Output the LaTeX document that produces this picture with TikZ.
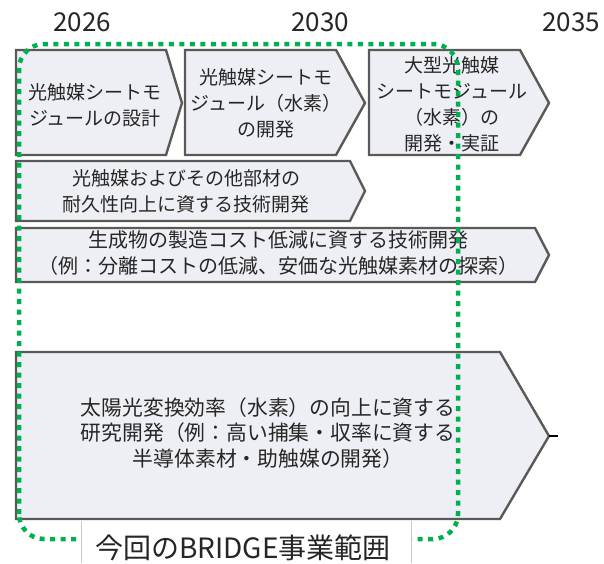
\documentclass[tikz,border=0pt]{standalone}
\usepackage{fontspec}
\setmainfont{Noto Sans CJK JP}
\definecolor{boxfill}{RGB}{238,239,244}
\definecolor{boxline}{RGB}{89,89,89}
\definecolor{txtgray}{RGB}{38,38,38}
\definecolor{scopegreen}{RGB}{0,176,80}
\definecolor{labline}{RGB}{200,200,200}
\tikzset{
  chev/.style={draw=boxline, fill=boxfill, line width=2.4pt, line join=miter},
  txt/.style={text=txtgray, font=\fontsize{19}{26}\selectfont, align=center, inner sep=0pt},
  txtmid/.style={txt, font=\fontsize{20}{25.5}\selectfont},
  txtbig/.style={txt, font=\fontsize{20.8}{25.5}\selectfont},
  yearlab/.style={text=txtgray, font=\fontsize{26}{30}\selectfont, inner sep=0pt},
  rangeline/.style={draw=scopegreen, line width=4.5pt, dash pattern=on 5pt off 5.5pt, rounded corners=25pt},
  labtxt/.style={text=txtgray, font=\fontsize{28}{32}\selectfont, inner sep=0pt}
}
\begin{document}
\begin{tikzpicture}[x=1pt,y=-1pt]
\useasboundingbox (0,0) rectangle (604,563);
\node[yearlab] (y2026) at (82,22) {2026};
\node[yearlab] (y2030) at (320,22) {2030};
\node[yearlab] (y2035) at (571,22) {2035};
% boxes
\draw[chev] (16,50) -- (166,50) -- (182,103) -- (166,155) -- (16,155) -- cycle;
\draw[chev] (185,50) -- (336,50) -- (365,103) -- (336,155) -- (185,155) -- cycle;
\draw[chev] (369,50) -- (520,50) -- (549,103) -- (520,155) -- (369,155) -- cycle;
\draw[chev] (16,161) -- (350,161) -- (365,191) -- (350,221) -- (16,221) -- cycle;
\draw[chev] (16,228) -- (535,228) -- (549,255) -- (535,282) -- (16,282) -- cycle;
\draw[chev] (16,352) -- (500,352) -- (549,436) -- (500,519) -- (16,519) -- cycle;
\draw[line width=2pt, draw=black] (549,436) -- (558,436);
% texts
\node[txt] (t1) at (95,105) {光触媒シートモ\\ジュールの設計};
\node[txt] (t2) at (266,103.5) {光触媒シートモ\\ジュール（水素）\\の開発};
\node[txt] (t3) at (452,104) {大型光触媒\\シートモジュール\\（水素）の\\開発・実証};
\node[txt] (t4) at (186,191) {光触媒およびその他部材の\\耐久性向上に資する技術開発};
\node[txtmid] (t5) at (278,253) {生成物の製造コスト低減に資する技術開発\\（例：分離コストの低減、安価な光触媒素材の探索）};
\node[txtbig] (t6) at (268,433) {太陽光変換効率（水素）の向上に資する\\研究開発（例：高い捕集・収率に資する\\半導体素材・助触媒の開発）};
% scope outline
\draw[rangeline] (19,539) -- (19,44) -- (458,44) -- (458,539) -- cycle;
% label
\fill[white] (81,520.5) rectangle (411,563);
\draw[labline, line width=0.8pt] (81.5,521) -- (81.5,563) (411.5,521) -- (411.5,563);
\node[labtxt] (lab) at (243,548) {今回のBRIDGE事業範囲};
\end{tikzpicture}
\end{document}
